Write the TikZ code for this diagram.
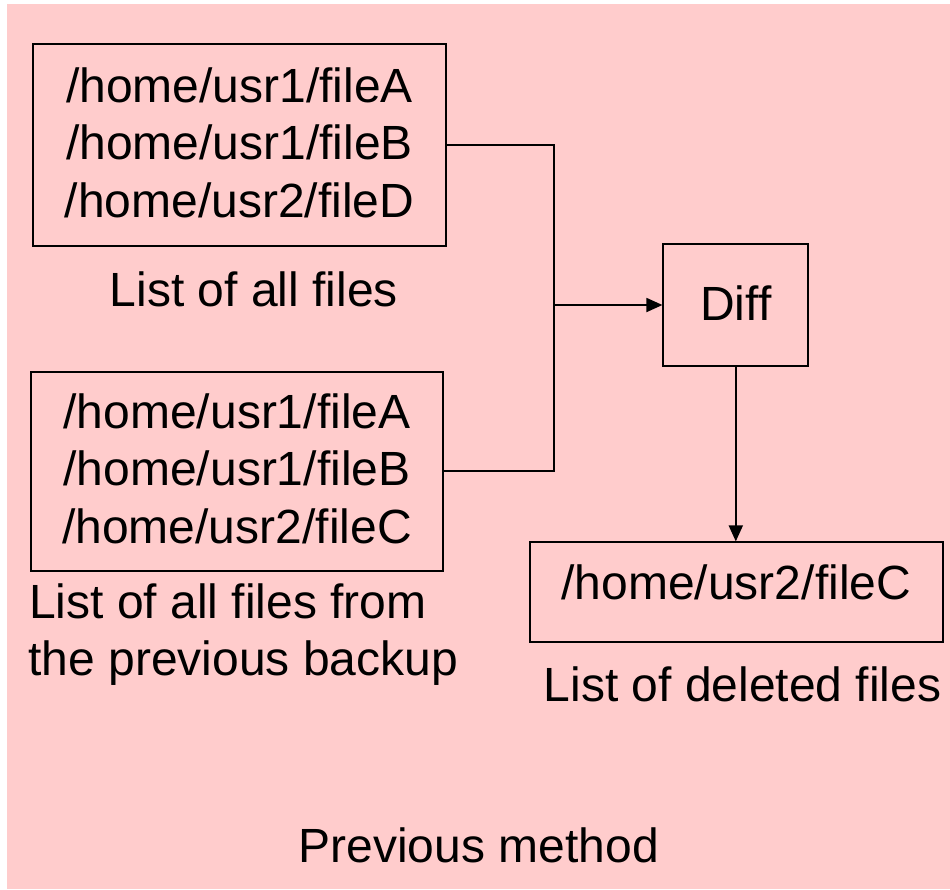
\documentclass[tikz,border=0pt]{standalone}
\usepackage{fontspec}
\setmainfont{Liberation Sans}
\usetikzlibrary{arrows.meta}
\definecolor{slidepink}{HTML}{FFCCCC}
\begin{document}
\begin{tikzpicture}[x=1pt,y=-1pt,
  every node/.style={font=\fontsize{48}{57.5}\selectfont, inner sep=0pt},
  listbox/.style={draw, line width=1.8pt, align=center, anchor=base},
  caption/.style={anchor=base},
  link/.style={line width=1.8pt},
  arrowlink/.style={line width=1.8pt, -{Triangle[length=16pt,width=14pt]}}]
  % page and slide background
  \useasboundingbox (0,0) rectangle (950,889);
  \fill[white] (0,0) rectangle (950,889);
  \fill[slidepink] (7.3,4) rectangle (950,889);

  % file lists
  \node[listbox, minimum width=413pt, text height=173pt, text depth=29pt]
    (all) at (239.5,217) {/home/usr1/fileA\\/home/usr1/fileB\\/home/usr2/fileD};
  \node[caption] (allcap) at (254,306.7) {List of all files};

  \node[listbox, minimum width=412pt, text height=171pt, text depth=27.7pt]
    (prev) at (237,543) {/home/usr1/fileA\\/home/usr1/fileB\\/home/usr2/fileC};
  \node[caption, anchor=base west] (prevcapa) at (29,618) {List of all files from};
  \node[caption, anchor=base west] (prevcapb) at (28.3,675) {the previous backup};

  % comparison step
  \node[listbox, minimum width=145pt, text height=75.7pt, text depth=45.7pt]
    (diff) at (735.8,320) {Diff};

  % result
  \node[listbox, minimum width=412.7pt, text height=56.7pt, text depth=43.3pt]
    (deleted) at (736.3,599) {/home/usr2/fileC};
  \node[caption] (delcap) at (742.5,701.7) {List of deleted files};

  \node[caption] (title) at (478.7,862.3) {Previous method};

  % connectors
  \coordinate (join) at (554,305);
  \draw[link] (all.east) -| (join);
  \draw[link] (prev.east) -| (join);
  \draw[arrowlink] (join) -- (diff.west);
  \draw[arrowlink] (diff.south) -- (diff.south |- deleted.north);
\end{tikzpicture}
\end{document}
